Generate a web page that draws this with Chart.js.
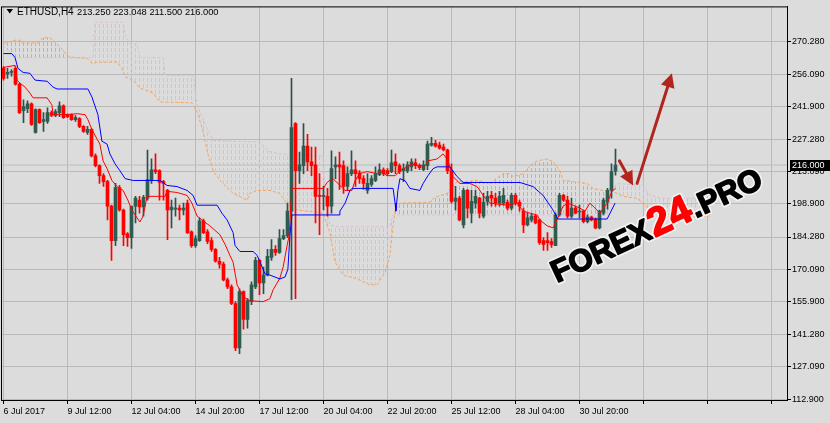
<!DOCTYPE html>
<html><head><meta charset="utf-8">
<script src="https://cdn.jsdelivr.net/npm/chart.js@4.4.0/dist/chart.umd.min.js"></script>
<style>html,body{margin:0;padding:0;background:#dcdcdc;overflow:hidden}</style>
</head><body>
<canvas id="c" width="830" height="423" style="display:block;width:830px;height:423px"></canvas>
<script>
// ---- data (ETHUSD H4) ----
const symbol = 'ETHUSD,H4';
const xTickLabels = ['6 Jul 2017','9 Jul 12:00','12 Jul 04:00','14 Jul 20:00','17 Jul 12:00','20 Jul 04:00','22 Jul 20:00','25 Jul 12:00','28 Jul 04:00','30 Jul 20:00'];
const barsPerLabel = 16;
const yTicks = [112.9,127.09,141.28,155.9,170.09,184.28,198.9,213.09,227.28,241.9,256.09,270.28];

const opens = [258.6,256.0,256.8,258.6,251.6,239.9,240.8,243.0,230.4,240.4,
235.2,235.2,239.1,237.8,239.1,242.1,238.2,238.2,236.0,236.5,
233.0,230.4,231.7,220.0,215.7,211.3,208.7,197.9,182.7,206.1,
196.2,185.7,184.0,197.9,200.5,197.5,201.4,209.6,213.9,213.5,
208.7,204.8,196.2,196.6,197.0,196.2,199.2,186.6,180.5,182.7,
191.4,186.6,182.7,178.8,173.6,172.3,165.4,162.3,155.0,135.4,
160.2,148.0,155.8,162.3,174.0,164.1,167.5,175.3,178.8,177.5,
183.6,184.9,195.7,234.3,213.5,215.7,224.3,217.4,216.1,202.7,
202.2,202.2,197.9,215.2,216.1,215.7,206.6,212.2,213.9,212.6,
210.0,204.8,207.4,209.2,211.8,213.9,213.5,213.1,217.4,215.7,
213.5,213.5,215.2,217.0,215.7,213.9,215.7,224.8,225.6,224.8,
223.9,222.6,213.5,200.0,201.4,189.6,204.8,194.8,199.2,201.4,
193.5,200.0,202.7,201.4,199.2,199.2,199.6,197.0,202.7,199.6,
195.7,189.6,191.8,193.5,191.8,182.7,182.7,182.3,180.5,194.0,
202.7,200.5,193.5,197.0,195.3,195.7,191.0,193.1,192.2,188.3,
194.8,199.6,204.8,213.25];
const highs = [259.4,258.6,258.1,259.4,252.1,244.7,244.3,243.4,240.8,240.8,
239.1,241.2,239.9,240.4,243.8,242.5,238.6,238.6,237.8,236.9,
233.4,233.0,232.1,220.9,216.1,212.2,209.2,198.3,207.9,207.0,
196.6,186.2,195.7,202.2,202.2,202.7,222.6,218.7,220.9,213.9,
209.2,205.3,200.5,201.4,198.3,199.2,200.5,187.0,184.9,192.7,
192.2,187.5,184.0,179.2,175.3,173.2,166.2,163.2,155.8,161.5,
160.6,157.1,164.5,175.3,174.5,171.0,178.8,183.1,180.5,187.5,
187.5,199.2,254.2,234.7,221.7,234.3,229.5,223.9,223.9,212.2,
206.6,205.7,222.2,219.6,221.7,217.8,215.2,222.2,217.8,213.5,
211.3,212.2,211.3,215.2,216.5,214.8,214.4,222.6,220.9,216.5,
216.5,217.4,218.7,218.7,216.5,217.8,226.5,228.2,226.9,226.1,
225.2,223.0,216.5,206.6,202.2,205.7,205.3,204.8,204.8,201.8,
203.5,204.4,204.4,203.5,204.4,205.7,200.5,203.5,203.5,200.5,
197.0,194.8,194.4,194.0,192.2,184.0,186.2,183.6,194.8,203.5,
203.1,202.2,201.4,197.9,198.3,196.2,194.0,193.5,192.7,196.2,
201.4,205.7,216.5,223.048];
const lows = [253.4,254.2,255.1,251.2,238.6,234.7,239.1,233.4,230.0,234.3,
230.8,234.3,237.3,237.3,237.3,236.5,236.9,235.6,235.2,232.5,
230.4,229.5,219.6,215.2,207.9,206.6,191.8,174.0,180.5,195.7,
180.5,180.1,179.2,190.5,194.8,193.5,200.5,207.9,212.2,200.5,
200.5,183.1,188.3,193.5,191.8,194.0,185.7,179.7,179.7,182.3,
185.7,181.4,177.9,173.2,170.6,164.9,161.5,154.5,134.2,132.9,
143.7,144.1,154.5,161.5,158.9,159.3,167.1,174.0,176.2,177.1,
183.1,184.0,156.7,157.1,207.9,212.2,213.5,211.3,190.5,185.3,
196.2,193.5,194.8,210.0,205.3,203.5,204.8,211.3,206.6,207.9,
205.3,203.5,206.6,208.7,211.3,211.3,211.3,212.6,212.2,212.2,
208.7,212.6,213.5,214.4,213.9,213.5,213.9,224.3,223.9,223.0,
222.2,212.2,199.2,196.2,191.4,188.3,192.7,190.5,197.0,192.7,
192.7,198.3,197.9,197.9,197.9,198.3,196.2,196.2,198.3,195.7,
186.2,189.2,190.9,190.1,181.0,178.4,178.4,179.7,180.5,193.5,
200.0,192.7,192.7,194.4,192.7,190.5,190.5,191.4,187.9,187.9,
194.0,196.6,201.4,211.5];
const closes = [254.2,256.8,257.3,251.6,239.1,241.7,243.0,233.9,240.4,234.7,
236.0,239.1,237.8,239.5,242.1,236.9,237.3,236.0,236.9,233.0,
230.8,231.7,220.0,215.7,211.3,208.7,197.9,182.7,206.1,196.2,
185.3,184.0,197.9,201.4,197.5,201.8,209.6,213.9,213.1,208.3,
207.9,196.2,197.5,197.0,196.2,197.0,186.2,180.5,183.6,191.4,
186.2,182.3,178.8,173.6,172.3,165.4,162.3,155.0,135.4,160.2,
148.0,156.3,163.2,174.0,164.1,167.5,175.8,178.8,177.5,183.6,
184.9,195.7,232.5,213.5,216.1,224.3,217.4,215.7,202.2,202.2,
202.7,197.9,214.4,216.1,215.2,206.6,212.2,213.9,212.2,210.0,
207.9,207.9,210.0,212.2,213.9,212.2,212.2,217.0,215.7,213.1,
214.4,216.1,217.4,215.7,214.8,216.1,225.2,225.6,224.3,223.4,
222.6,213.5,200.0,201.4,191.8,204.8,197.0,200.0,202.2,194.8,
199.6,202.2,201.4,199.2,202.2,202.7,197.0,202.7,199.2,197.9,
189.6,192.7,193.5,190.5,181.8,181.0,181.8,181.0,194.0,202.7,
200.5,193.5,197.0,194.8,195.7,191.0,193.1,191.8,188.3,195.7,
200.5,204.8,213.1,216.0];

// Ichimoku lines (bar index, price)
const tenkanX = [0,2.9,3.4,4.1,5.4,6.6,7.4,10.9,12.1,12.4,15.9,18.4,20.4,21.1,22.1,23.4,24.1,24.9,25.9,27.1,28.4,29.9,31.1,32.1,34.1,34.9,35.9,40.4,40.9,43.4,45.9,47.1,48.4,49.9,51.6,54.1,55.4,56.6,57.4,58.4,59.9,61.6,64.9,66.6,67.4,69.1,69.9,70.9,71.4,72.1,79.9,81.1,82.4,84.1,85.4,87.1,87.9,89.1,90.9,93.4,94.1,95.9,97.9,99.1,100.9,102.1,103.4,105.4,106.1,108.4,109.9,110.9,111.6,112.4,114.1,116.6,118.4,119.9,121.6,125.9,128.4,129.9,131.6,133.4,134.1,135.9,137.4,138.6,139.9,141.1,142.4,144.1,145.4,146.6,147.4,149.1,150.9,152.1,153];
const tenkanY = [259.0,259.9,253.4,252.1,250.3,247.7,245.6,245.6,242.5,238.2,238.2,238.6,238.2,236.0,231.7,227.4,225.2,217.8,214.4,209.2,206.5,204.8,200.5,196.1,190.9,193.5,202.2,202.2,204.4,203.9,202.6,199.2,193.5,191.4,189.2,185.3,181.0,176.2,173.2,163.2,158.0,156.2,155.8,157.1,161.0,166.2,171.0,180.5,184.9,205.7,205.7,208.7,210.0,207.0,204.8,204.8,209.2,212.2,213.1,212.2,213.5,211.3,211.3,213.5,215.2,216.5,215.7,215.7,217.8,218.7,220.9,218.7,215.2,210.9,207.85,207.85,206.5,202.6,199.2,198.3,199.2,195.7,194.8,194.0,191.8,189.2,188.3,192.7,197.9,199.2,198.3,197.0,195.7,199.2,197.9,194.8,199.2,204.4,205.7];
const kijunX = [0,2.1,2.9,3.6,4.9,6.6,7.9,10.9,12.4,13.4,21.1,22.1,23.6,24.6,25.9,26.6,27.9,29.1,30.4,32.4,39.1,40.9,43.4,45.9,47.4,48.4,53.4,54.6,55.9,57.4,57.9,59.1,62.4,63.4,65.4,66.6,69.1,70.4,71.1,71.6,72.1,83.9,84.1,85.4,86.6,87.1,97.4,97.9,98.1,98.6,99.1,100.4,101.6,104.1,104.9,106.1,107.4,108.4,111.6,113.4,114.9,129.1,132.4,134.9,137.4,138.6,150.9,152.9];
const kijunY = [265.1,265.1,263.3,258.6,256.8,256.4,253.4,252.9,250.3,249.5,249.5,246.0,238.2,226.5,225.2,220.9,216.5,213.5,210.0,209.2,209.2,207.0,206.5,204.8,202.6,198.3,198.3,194.8,191.8,186.2,180.5,177.9,177.9,176.2,168.0,167.5,165.8,166.7,170.1,184.9,194.0,194.0,195.7,199.2,204.8,205.7,205.7,199.2,195.7,204.8,210.0,209.1,205.7,204.8,207.85,211.3,214.4,215.2,215.2,210.9,208.3,208.3,206.5,202.6,196.1,192.2,192.2,199.2];
const spanAX = [0,2.9,4.1,4.6,8.6,9.9,11.6,12.9,14.6,15.9,17.1,20.9,22.1,23.4,28.4,29.6,30.4,32.4,34.1,37.4,39.1,47.1,48.4,49.9,51.1,52.4,54.1,57.4,60.9,61.6,63.4,66.6,69.1,71.6,74.1,79.9,81.6,82.9,84.9,88.4,91.6,93.4,95.4,96.6,97.1,97.9,99.1,106.6,107.4,109.1,110.9,113.4,114.9,118.4,121.6,124.9,126.6,127.4,129.9,131.6,133.4,135.9,137.4,139.1,139.9,142.4,145.9,147.4,149.9,152.4,154.9,158.4,159.9,161.6,163.4,167.4,171.6,176.6];
const spanAY = [269.6,271.0,271.0,269.8,269.8,272.1,272.1,270.0,267.2,264.2,263.5,263.0,260.7,261.3,261.3,258.6,254.8,253.4,249.9,247.7,243.8,243.4,239.5,230.8,220.9,213.5,209.2,203.5,200.5,203.5,204.8,204.8,203.5,197.0,196.1,194.8,186.2,173.2,167.5,165.8,163.2,163.2,168.8,176.2,184.9,196.1,199.2,199.6,201.3,202.6,203.5,208.7,208.7,209.2,207.9,212.2,212.2,210.9,212.2,215.7,217.8,218.7,217.4,213.5,209.2,208.7,207.9,205.7,204.8,204.4,202.2,201.3,199.2,196.1,194.8,194.0,193.5,193.5];
const spanBX = [0,2.4,2.9,22.4,22.9,29.9,30.4,31.6,33.4,34.1,39.9,40.4,47.4,48.4,50.4,52.4,64.1,66.1,69.1,79.9,80.6,81.6,83.6,96.6,97.4,150.9,152.1,153.4,159.9,161.6,164.9,175.9,176.6];
const spanBY = [268.5,264.2,263.3,263.3,278.9,278.9,272.9,269.4,269.4,263.3,263.3,255.5,255.5,242.5,233.9,226.9,226.1,222.2,220.9,220.0,199.2,189.6,188.8,188.8,194.0,194.0,205.7,207.85,207.0,202.6,201.3,201.3,194.0];

// forecast arrows (bar index, price)
const arrowFromX = [154.0,158.4], arrowFromY = [217.8,207.9];
const arrowToX = [157.4,167.1], arrowToY = [207.0,256.4];

// ---- chart ----
const BG = '#dcdcdc';
const FONT = '"Liberation Sans", Arial, sans-serif';
const last = closes.length - 1;
const canvas = document.getElementById('c');
const ctx0 = canvas.getContext('2d');
function hatch(color){
  const c = document.createElement('canvas'); c.width = 4; c.height = 6;
  const g = c.getContext('2d'); g.fillStyle = color; g.fillRect(3,0,1,4);
  return ctx0.createPattern(c,'repeat');
}
const orangeHatch = hatch('#F4A460'), thistleHatch = hatch('#D8BFD8');
const idx = opens.map((_, i) => i);
const up = idx.map(i => closes[i] >= opens[i]);

const deco = {
  id: 'deco',
  beforeDraw(chart){
    const c = chart.ctx; c.save(); c.fillStyle = BG; c.fillRect(0,0,chart.width,chart.height); c.restore();
  },
  afterDraw(chart){
    const c = chart.ctx, a = chart.chartArea, xs = chart.scales.x, ys = chart.scales.y;
    c.save();
    // arrows
    c.strokeStyle = '#b0261c'; c.fillStyle = '#b0261c'; c.lineWidth = 3; c.lineCap = 'round';
    for (let i = 0; i < arrowFromX.length; i++){
      const x0 = xs.getPixelForValue(arrowFromX[i]), y0 = ys.getPixelForValue(arrowFromY[i]);
      const x1 = xs.getPixelForValue(arrowToX[i]), y1 = ys.getPixelForValue(arrowToY[i]);
      const ang = Math.atan2(y1-y0, x1-x0), hl = 14, hw = 7;
      const bx = x1 - hl*Math.cos(ang), by = y1 - hl*Math.sin(ang);
      c.beginPath(); c.moveTo(x0,y0); c.lineTo(bx,by); c.stroke();
      c.beginPath(); c.moveTo(x1,y1);
      c.lineTo(bx + hw*Math.sin(ang), by - hw*Math.cos(ang));
      c.lineTo(bx - hw*Math.sin(ang), by + hw*Math.cos(ang));
      c.closePath(); c.fill();
    }
    // watermark
    c.translate(557, 283); c.rotate(-25*Math.PI/180);
    const segs = [['FOREX','#000000',31],['24','#ff0000',40],['.PRO','#000000',31]];
    let px = 0; c.textBaseline = 'alphabetic'; c.lineJoin = 'round';
    segs.forEach(s => {
      c.font = 'bold '+s[2]+'px "Liberation Sans"';
      c.strokeStyle = '#f2f2f2'; c.lineWidth = 5; c.strokeText(s[0], px, 0);
      c.fillStyle = s[1]; c.fillText(s[0], px, 0);
      c.strokeStyle = s[1]; c.lineWidth = 1.6; c.strokeText(s[0], px, 0);
      px += c.measureText(s[0]).width + 1;
    });
    c.restore();
    c.save();
    // border
    c.strokeStyle = '#000'; c.lineWidth = 1;
    c.strokeRect(a.left+0.5, a.top+0.5, a.right-a.left, a.bottom-a.top);
    // header
    c.fillStyle = '#000';
    c.beginPath(); c.moveTo(6.5,9); c.lineTo(13,9); c.lineTo(9.75,13.5); c.closePath(); c.fill();
    c.font = '10px '+FONT; c.textBaseline = 'alphabetic';
    c.fillText(symbol, 17, 14.5);
    c.font = '9.3px '+FONT;
    c.fillText([opens[last],highs[last],lows[last],closes[last]].map(v=>v.toFixed(3)).join(' '), 77, 14.5);
    // last price label
    const yp = Math.round(ys.getPixelForValue(closes[last]));
    c.fillStyle = '#000'; c.fillRect(a.right+3, yp-5, 40, 11);
    c.fillStyle = '#fff'; c.font = '9px '+FONT; c.textBaseline = 'middle';
    c.fillText(closes[last].toFixed(3), a.right+5, yp+0.5);
    c.restore();
  }
};

const gridCommon = { color: '#b9b9b9', lineWidth: 1, borderDash: [3,3], drawTicks: true, tickLength: 4, tickColor: '#000', tickBorderDash: [] };

new Chart(canvas, {
  type: 'bar',
  data: { datasets: [
    { type:'line', label:'last', data:[{x:-5,y:closes[last]},{x:300,y:closes[last]}], borderColor:'#bdbdbd', borderWidth:1, pointRadius:0, order:20 },
    { type:'line', label:'Senkou A', data: spanAX.map((x,i)=>({x, y:spanAY[i]})), borderColor:'#F4A460', borderDash:[3,2], borderWidth:1, pointRadius:0, fill:false, order:15 },
    { type:'line', label:'Senkou B', data: spanBX.map((x,i)=>({x, y:spanBY[i]})), borderColor:'#D8BFD8', borderDash:[3,2], borderWidth:1, pointRadius:0, fill:{target:1, above:thistleHatch, below:orangeHatch}, order:16 },
    { type:'bar', label:'wick', data: idx.map(i=>({x:i, y:[lows[i], highs[i]]})), backgroundColor: idx.map(i=>up[i]?'#2f4f4f':'#ff0000'), barThickness:1, grouped:false, borderWidth:0, order:6 },
    { type:'bar', label:'body', data: idx.map(i=>({x:i, y:[opens[i], closes[i]]})), backgroundColor: idx.map(i=>up[i]?'#2e5d4f':'#ff0000'), barThickness:3, grouped:false, borderWidth:0, minBarLength:1, order:5 },
    { type:'line', label:'Tenkan', data: tenkanX.map((x,i)=>({x, y:tenkanY[i]})), borderColor:'#ff0000', borderWidth:1, pointRadius:0, order:2 },
    { type:'line', label:'Kijun', data: kijunX.map((x,i)=>({x, y:kijunY[i]})), borderColor:'#0000ff', borderWidth:1, pointRadius:0, order:1 }
  ]},
  options: {
    responsive:false, animation:false, devicePixelRatio:1,
    layout:{ padding:{ left:1, top:0, right:0, bottom:0 } },
    plugins:{ legend:{display:false}, tooltip:{enabled:false}, title:{display:false} },
    scales:{
      x:{ type:'linear', position:'bottom', min:-0.625, max:195.875, offset:false,
          afterBuildTicks: s => { const t=[]; for(let v=0; v<=s.max; v+=barsPerLabel) t.push({value:v}); s.ticks = t; },
          afterFit: s => { s.height = 23; },
          ticks:{ autoSkip:false, maxRotation:0, align:'start', padding:2, color:'#000', font:{family:FONT, size:9},
                  callback: v => xTickLabels[v/barsPerLabel] || '' },
          grid: Object.assign({}, gridCommon, {offset:false}),
          border:{ display:true, color:'#000', width:1 } },
      y:{ type:'linear', position:'right', min:112.468, max:285.888, beginAtZero:false,
          afterBuildTicks: s => { s.ticks = yTicks.map(v=>({value:v})); },
          afterFit: s => { s.width = 43; },
          ticks:{ padding:1, color:'#000', font:{family:FONT, size:9}, callback: v => v.toFixed(3) },
          grid: gridCommon,
          border:{ display:true, color:'#000', width:1 } }
    }
  },
  plugins:[deco]
});
</script>
</body></html>
